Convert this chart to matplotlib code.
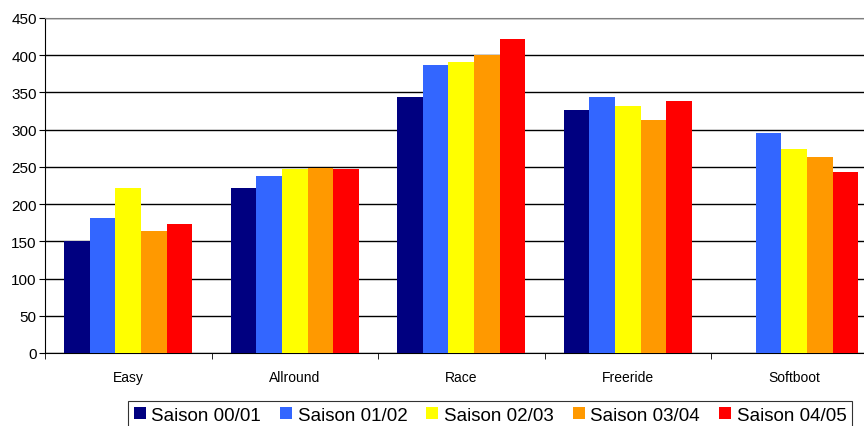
import numpy as np
import matplotlib
matplotlib.use("Agg")
import matplotlib.pyplot as plt

plt.rcParams['font.family'] = ['Liberation Sans', 'DejaVu Sans']

categories = ['Easy', 'Allround', 'Race', 'Freeride', 'Softboot']
seasons = ['Saison 00/01', 'Saison 01/02', 'Saison 02/03', 'Saison 03/04', 'Saison 04/05']
s0001 = [151, 222, 344, 327, 0]
s0102 = [181, 238, 387, 344, 296]
s0203 = [222, 247, 391, 332, 274]
s0304 = [164, 249, 400, 313, 263]
s0405 = [173, 247, 422, 339, 243]
colors = ['#000080', '#3366FF', '#FFFF00', '#FF9900', '#FF0000']

values = [s0001, s0102, s0203, s0304, s0405]

fig = plt.figure(figsize=(8.64, 4.27), dpi=100)
ax = fig.add_axes([45 / 864, 73 / 427, 1 - 45 / 864, 335 / 427])

x = np.arange(len(categories))
w = 0.154
for i, (vals, col, lab) in enumerate(zip(values, colors, seasons)):
    ax.bar(x + (i - 2) * w, vals, width=w, color=col, label=lab, zorder=3)

ax.set_yticks(range(0, 451, 50))
ax.grid(axis='y', color='black', linewidth=1, zorder=0)
ax.set_axisbelow(True)

ax.set_xticks(x)
ax.set_xticklabels(categories, fontsize=10)
ax.set_xticks(np.arange(-0.5, 4.5, 1), minor=True)
ax.tick_params(axis='x', which='major', length=0, pad=12)
ax.tick_params(axis='x', which='minor', length=4, color='black')
ax.tick_params(axis='y', labelsize=11, length=4, pad=2)

# set limits last so the ticks don't stretch them
ax.set_ylim(0, 450)
ax.set_xlim(-0.5, -0.5 + 819 / 166.5)

ax.spines['right'].set_visible(False)
ax.spines['top'].set_color('#808080')
ax.spines['left'].set_color('black')
ax.spines['bottom'].set_color('black')

leg = fig.legend(loc='upper center', bbox_to_anchor=(490 / 864, 25 / 427), ncol=5,
                 fontsize=13.5, frameon=True, fancybox=False, edgecolor='black',
                 handlelength=0.65, handleheight=0.65, handletextpad=0.3,
                 columnspacing=1.0, borderpad=0.3, borderaxespad=0)
leg.get_frame().set_linewidth(0.8)

fig.savefig('out.png', dpi=100)
